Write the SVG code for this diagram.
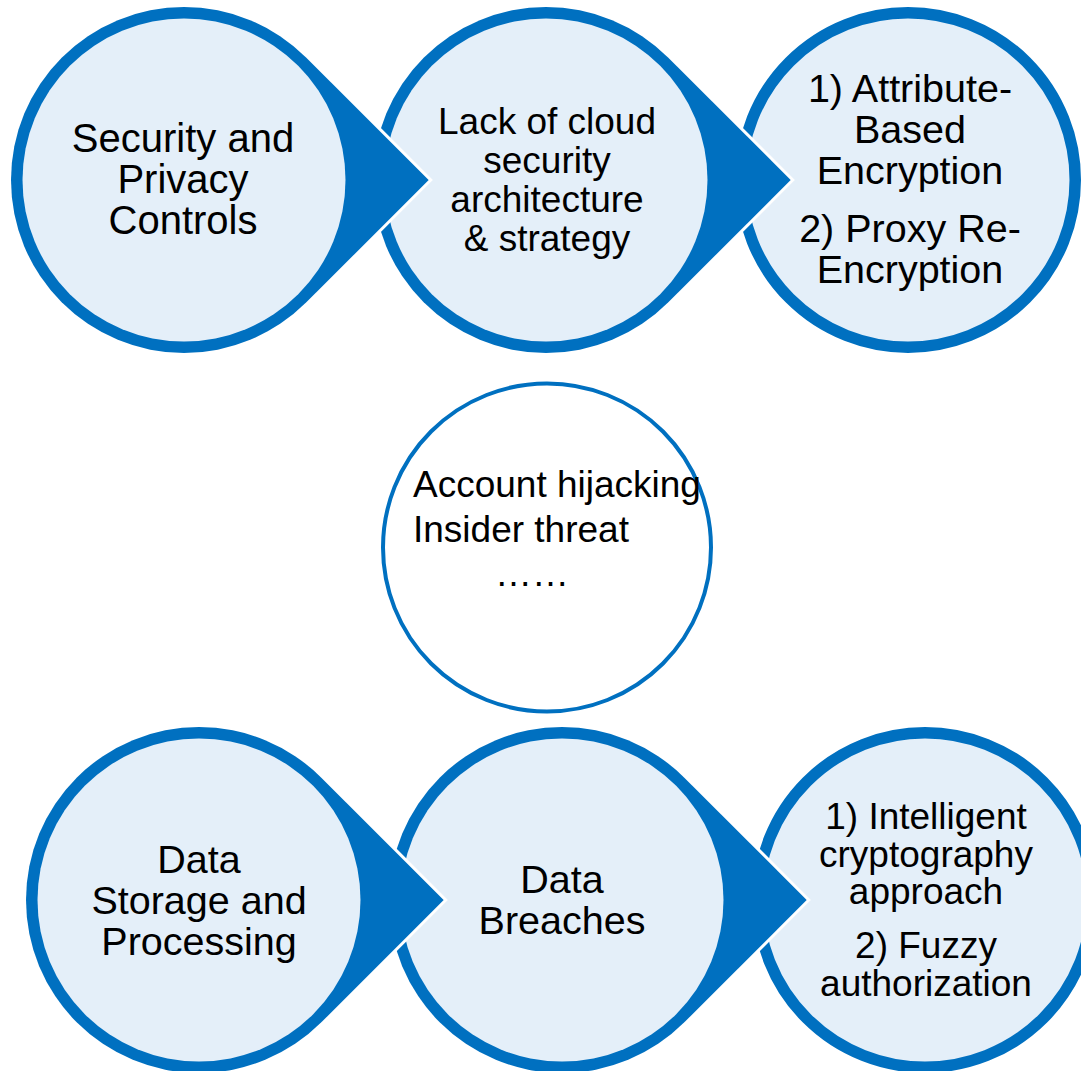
<svg xmlns="http://www.w3.org/2000/svg" xmlns:xlink="http://www.w3.org/1999/xlink" width="1081" height="1071" viewBox="0 0 1081 1071">
<style>
.drop{fill:#0070C0;stroke:#FFFFFF;stroke-width:6;paint-order:stroke fill;stroke-linejoin:miter}
.inner{fill:#E4EFF9}
.plain{fill:#E4EFF9;stroke:#0070C0;stroke-width:11.5}
.t{font-family:"Liberation Sans",Arial,sans-serif;fill:#000;text-anchor:middle}
.f40{font-size:40px}.f39{font-size:39.5px}.f37{font-size:37px}
.ring{fill:#FFFFFF;stroke:#0070C0;stroke-width:4}
</style>
<defs>
<path id="drop" d="M244.66,0 L122.33,122.33 A173,173 0 1 1 122.33,-122.33 Z"/>
</defs>
<rect width="1081" height="1071" fill="#FFFFFF"/>
<g id="connectors"/>
<g id="top-3">
<circle class="plain" cx="908" cy="180" r="167.25"/>
<text class="t f39"><tspan x="910" y="102">1) Attribute-</tspan><tspan x="910" y="143">Based</tspan><tspan x="910" y="184">Encryption</tspan><tspan x="910" y="242">2) Proxy Re-</tspan><tspan x="910" y="283">Encryption</tspan></text>
</g>
<g id="top-2">
<use xlink:href="#drop" href="#drop" class="drop" x="546" y="180"/>
<circle class="inner" cx="546" cy="180" r="161.5"/>
<text class="t f37"><tspan x="547" y="134">Lack of cloud</tspan><tspan x="547" y="173">security</tspan><tspan x="547" y="212">architecture</tspan><tspan x="547" y="251">&amp; strategy</tspan></text>
</g>
<g id="top-1">
<use xlink:href="#drop" href="#drop" class="drop" x="184" y="180"/>
<circle class="inner" cx="184" cy="180" r="161.5"/>
<text class="t f40"><tspan x="183" y="152">Security and</tspan><tspan x="183" y="193">Privacy</tspan><tspan x="183" y="234">Controls</tspan></text>
</g>
<g id="middle">
<circle class="ring" cx="547" cy="547.5" r="164"/>
<text class="t f37" style="text-anchor:start"><tspan x="413" y="497">Account hijacking</tspan><tspan x="413" y="542">Insider threat</tspan></text>
<text class="t f37" x="532" y="586">……</text>
</g>
<g id="bottom-3">
<circle class="plain" cx="925" cy="900" r="167.25"/>
<text class="t f37"><tspan x="926" y="829">1) Intelligent</tspan><tspan x="926" y="867">cryptography</tspan><tspan x="926" y="904">approach</tspan><tspan x="926" y="958">2) Fuzzy</tspan><tspan x="926" y="996">authorization</tspan></text>
</g>
<g id="bottom-2">
<use xlink:href="#drop" href="#drop" class="drop" x="562" y="900"/>
<circle class="inner" cx="562" cy="900" r="161.5"/>
<text class="t f39"><tspan x="562" y="893">Data</tspan><tspan x="562" y="934">Breaches</tspan></text>
</g>
<g id="bottom-1">
<use xlink:href="#drop" href="#drop" class="drop" x="199" y="900"/>
<circle class="inner" cx="199" cy="900" r="161.5"/>
<text class="t f39"><tspan x="199" y="873">Data</tspan><tspan x="199" y="914">Storage and</tspan><tspan x="199" y="955">Processing</tspan></text>
</g>
</svg>
